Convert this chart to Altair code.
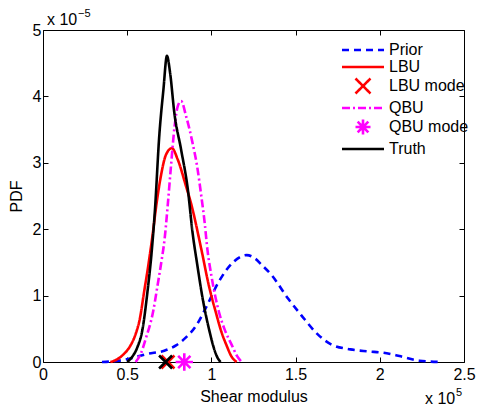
import altair as alt
import pandas as pd

# ---- data (x in units of 1e5, y in units of 1e-5) ----
prior_x = [0.35, 0.45, 0.53, 0.615, 0.72, 0.79, 0.849, 0.91, 0.966, 1.044, 1.12, 1.21, 1.259, 1.30, 1.357,
           1.454, 1.532, 1.63, 1.708, 1.825, 1.93, 2.02, 2.117, 2.235, 2.37]
prior_y = [0.0, 0.02, 0.06, 0.12, 0.17, 0.25, 0.37, 0.55, 0.81, 1.21, 1.48, 1.61, 1.56, 1.46, 1.31,
           0.96, 0.71, 0.42, 0.27, 0.19, 0.16, 0.14, 0.09, 0.02, 0.0]

lbu_x = [0.40, 0.44, 0.48, 0.52, 0.55, 0.575, 0.60, 0.625, 0.65, 0.675, 0.70, 0.73, 0.765, 0.80, 0.849, 0.878,
         0.94, 0.985, 1.025, 1.06, 1.09, 1.12, 1.15]
lbu_y = [0.0, 0.04, 0.12, 0.25, 0.42, 0.65, 1.05, 1.45, 1.9, 2.4, 2.8, 3.12, 3.22, 3.05, 2.65, 2.4,
         1.7, 1.15, 0.76, 0.45, 0.25, 0.08, 0.0]

qbu_x = [0.55, 0.58, 0.61, 0.654, 0.68, 0.703, 0.722, 0.742, 0.76, 0.781, 0.80, 0.82, 0.85, 0.888, 0.915,
         0.94, 0.96, 0.976, 1.0, 1.044, 1.08, 1.122, 1.15, 1.18]
qbu_y = [0.0, 0.12, 0.35, 0.76, 1.15, 1.51, 1.85, 2.4, 2.95, 3.54, 3.85, 3.93, 3.7, 3.3, 2.95,
         2.5, 2.1, 1.7, 1.3, 0.76, 0.48, 0.25, 0.1, 0.0]

truth_x = [0.50, 0.53, 0.56, 0.59, 0.62, 0.645, 0.665, 0.69, 0.715, 0.736, 0.755, 0.78, 0.82, 0.86, 0.888,
           0.917, 0.945, 0.966, 0.99, 1.01, 1.03, 1.054]
truth_y = [0.0, 0.08, 0.22, 0.48, 1.05, 1.65, 2.3, 3.39, 4.1, 4.61, 4.35, 3.75, 3.2, 2.6, 1.95,
           1.45, 1.0, 0.72, 0.45, 0.25, 0.1, 0.0]

lbu_mode_x = [0.742]
qbu_mode_x = [0.839]
truth_mode_x = [0.728]

series_names = ["Prior", "LBU", "LBU mode", "QBU", "QBU mode", "Truth"]
series_colors = ["#0000ff", "#ff0000", "#ff0000", "#ff00ff", "#ff00ff", "#000000"]
series_dashes = [[7, 5], [1, 0], [1, 0], [8, 3, 2, 3], [1, 0], [1, 0]]

LINE = "M-2.8,0L2.8,0"
XPATH = "M-1,-1L1,1M-1,1L1,-1"
STAR = "M-1,0L1,0M0,-1L0,1M-0.71,-0.71L0.71,0.71M-0.71,0.71L0.71,-0.71"
series_shapes = [LINE, LINE, XPATH, LINE, STAR, LINE]

x_ticks = [0, 0.5, 1, 1.5, 2, 2.5]
y_ticks = [0, 1, 2, 3, 4, 5]

# ---- tables ----
rows = []
for name, xs, ys in [("Prior", prior_x, prior_y), ("LBU", lbu_x, lbu_y),
                     ("QBU", qbu_x, qbu_y), ("Truth", truth_x, truth_y)]:
    for i, (a, b) in enumerate(zip(xs, ys)):
        rows.append({"x": a, "y": b, "series": name, "i": i})
lines_df = pd.DataFrame(rows)
lbu_mode_df = pd.DataFrame({"x": lbu_mode_x, "y": [0.0] * len(lbu_mode_x), "series": ["LBU mode"] * len(lbu_mode_x)})
qbu_mode_df = pd.DataFrame({"x": qbu_mode_x, "y": [0.0] * len(qbu_mode_x), "series": ["QBU mode"] * len(qbu_mode_x)})
truth_mode_df = pd.DataFrame({"x": truth_mode_x, "y": [0.0] * len(truth_mode_x)})

FONT = "Liberation Sans"

legend = alt.Legend(
    title=None, orient="none", legendX=311, legendY=11, padding=0,
    symbolSize=225, symbolStrokeWidth=2.6, labelOffset=17, rowPadding=-2,
    labelFont=FONT, labelFontSize=16, labelColor="black", symbolFillColor="transparent",
)

color_enc = alt.Color("series:N", scale=alt.Scale(domain=series_names, range=series_colors), legend=legend)
dash_enc = alt.StrokeDash("series:N", scale=alt.Scale(domain=series_names, range=series_dashes), legend=legend)
shape_enc = alt.Shape("series:N", scale=alt.Scale(domain=series_names, range=series_shapes), legend=legend)

xscale = alt.Scale(domain=[0, 2.5], nice=False, zero=False)
yscale = alt.Scale(domain=[0, 5], nice=False, zero=False)

x_axis = alt.Axis(values=x_ticks, format="~g", title="Shear modulus", offset=-5, tickSize=5, domain=False,
                  grid=False, labelFont=FONT, labelFontSize=16, labelColor="black", tickColor="black",
                  labelPadding=4, titleFont=FONT, titleFontSize=16, titleFontWeight="normal",
                  titleColor="black", titlePadding=6, labelFlush=False)
y_axis = alt.Axis(values=y_ticks, format="d", title="PDF", offset=-5, tickSize=5, domain=False,
                  grid=False, labelFont=FONT, labelFontSize=16, labelColor="black", tickColor="black",
                  labelPadding=2, titleFont=FONT, titleFontSize=16, titleFontWeight="normal",
                  titleColor="black", titlePadding=8, labelFlush=False)

lines = alt.Chart(lines_df).mark_line(strokeWidth=2.6, interpolate="monotone").encode(
    x=alt.X("x:Q", scale=xscale, axis=x_axis),
    y=alt.Y("y:Q", scale=yscale, axis=y_axis),
    color=color_enc,
    strokeDash=dash_enc,
    order="i:Q",
)

frame = alt.Chart(lines_df).mark_point(opacity=0).encode(
    x=alt.X("x:Q", scale=xscale, axis=alt.Axis(orient="top", values=x_ticks, labels=False, title=None,
                                                 offset=-5, tickSize=5, domain=False, grid=False, tickColor="black")),
    y=alt.Y("y:Q", scale=yscale, axis=alt.Axis(orient="right", values=y_ticks, labels=False, title=None,
                                                 offset=-5, tickSize=5, domain=False, grid=False, tickColor="black")),
)

lbu_mode = alt.Chart(lbu_mode_df).mark_point(size=169, strokeWidth=2.6, filled=False, opacity=1).encode(
    x=alt.X("x:Q", scale=xscale, axis=None),
    y=alt.Y("y:Q", scale=yscale, axis=None),
    color=color_enc,
    shape=shape_enc,
)

qbu_mode = alt.Chart(qbu_mode_df).mark_point(size=300, strokeWidth=2.6, filled=False, opacity=1).encode(
    x=alt.X("x:Q", scale=xscale, axis=None),
    y=alt.Y("y:Q", scale=yscale, axis=None),
    color=color_enc,
    shape=shape_enc,
)

truth_mode = alt.Chart(truth_mode_df).mark_point(size=169, strokeWidth=2.6, filled=False, opacity=1,
                                                  shape=XPATH, color="black").encode(
    x=alt.X("x:Q", scale=xscale, axis=None),
    y=alt.Y("y:Q", scale=yscale, axis=None),
)

# exponent annotations
exp_top = alt.Chart(pd.DataFrame({"t": ["x 10"]})).mark_text(
    font=FONT, fontSize=16, align="left", baseline="alphabetic", color="black").encode(
    text="t:N", x=alt.value(4), y=alt.value(-5))
exp_top_sup = alt.Chart(pd.DataFrame({"t": ["\u22125"]})).mark_text(
    font=FONT, fontSize=11, align="left", baseline="alphabetic", color="black").encode(
    text="t:N", x=alt.value(35), y=alt.value(-13))
exp_bot = alt.Chart(pd.DataFrame({"t": ["x 10"]})).mark_text(
    font=FONT, fontSize=16, align="left", baseline="alphabetic", color="black").encode(
    text="t:N", x=alt.value(382), y=alt.value(374))
exp_bot_sup = alt.Chart(pd.DataFrame({"t": ["5"]})).mark_text(
    font=FONT, fontSize=11, align="left", baseline="alphabetic", color="black").encode(
    text="t:N", x=alt.value(413), y=alt.value(366))

chart = alt.layer(
    lines, frame, lbu_mode, qbu_mode, truth_mode, exp_top, exp_top_sup, exp_bot, exp_bot_sup
).resolve_axis(x="independent", y="independent").properties(
    width=421, height=332,
    autosize=alt.AutoSizeParams(type="none"),
    padding={"left": 35, "top": 22, "right": 13, "bottom": 44},
    background="white",
).configure_view(stroke="black", strokeWidth=1)

chart.save("out.html", embed_options={"renderer": "svg", "actions": False})
